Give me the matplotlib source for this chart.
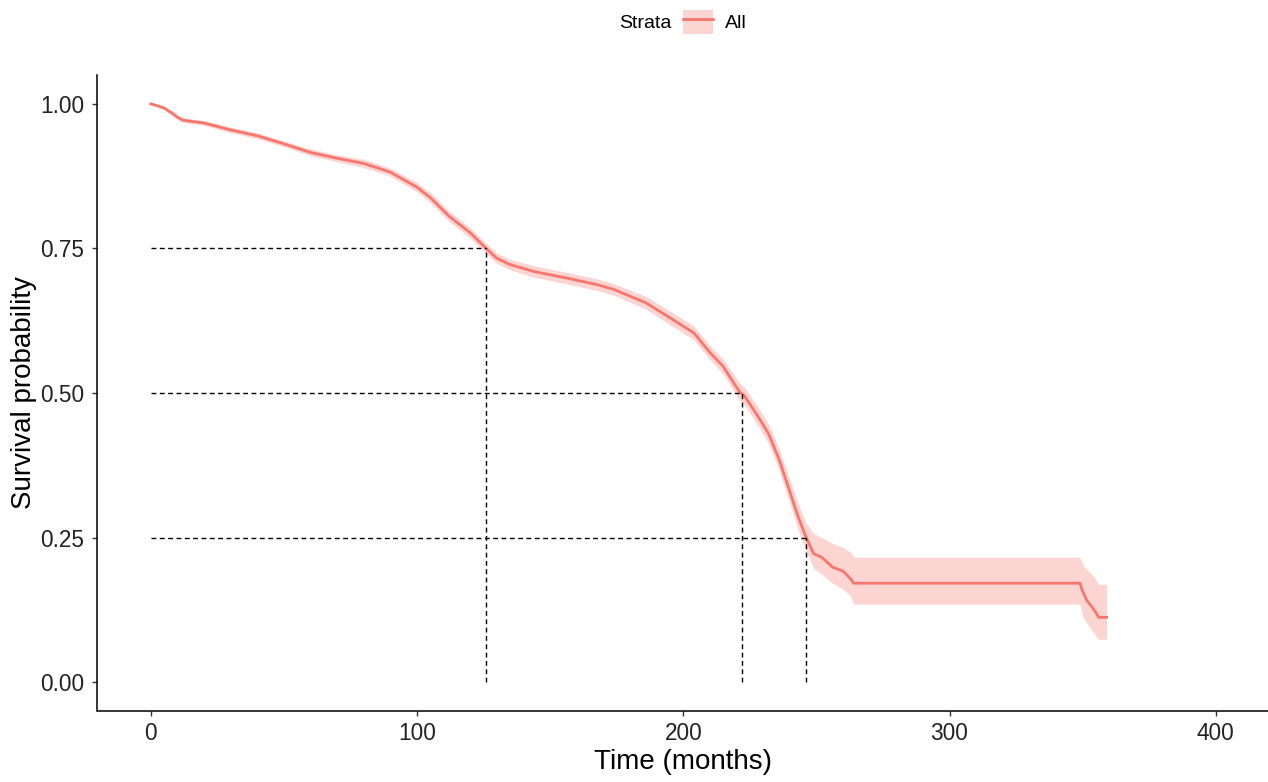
import numpy as np
import matplotlib
matplotlib.use("Agg")
import matplotlib.pyplot as plt
from matplotlib.patches import Patch
from matplotlib.lines import Line2D

plt.rcParams['font.family'] = ['Liberation Sans', 'DejaVu Sans']

# Kaplan-Meier estimate (time in months)
time = [0, 1.5, 3, 5, 6, 8, 10, 12, 15, 20, 30, 40, 50, 60, 70, 80, 90, 100,
        105, 112, 120, 126, 130, 135, 144, 156, 168, 174, 186, 195, 204, 210,
        215, 221, 223, 228, 232, 236, 240, 243, 246, 249, 252, 256, 260, 263,
        264, 349, 350, 351.5, 353.5, 355, 356, 359]
surv = [1.000, 0.998, 0.996, 0.993, 0.990, 0.984, 0.977, 0.972, 0.970, 0.967,
        0.955, 0.945, 0.931, 0.916, 0.906, 0.897, 0.882, 0.856, 0.838, 0.806,
        0.777, 0.750, 0.733, 0.722, 0.710, 0.699, 0.687, 0.679, 0.656, 0.630,
        0.604, 0.570, 0.546, 0.503, 0.495, 0.460, 0.430, 0.385, 0.330, 0.288,
        0.252, 0.222, 0.216, 0.199, 0.192, 0.178, 0.171, 0.171, 0.157, 0.142,
        0.130, 0.120, 0.112, 0.112]
ci_low = [1.000, 0.997, 0.994, 0.990, 0.987, 0.980, 0.973, 0.968, 0.966, 0.963,
          0.950, 0.940, 0.926, 0.910, 0.900, 0.890, 0.875, 0.848, 0.829, 0.797,
          0.768, 0.741, 0.724, 0.713, 0.700, 0.689, 0.677, 0.669, 0.645, 0.618,
          0.592, 0.558, 0.533, 0.488, 0.480, 0.444, 0.413, 0.366, 0.309, 0.265,
          0.228, 0.197, 0.187, 0.171, 0.161, 0.148, 0.135, 0.135, 0.114, 0.102,
          0.089, 0.080, 0.074, 0.074]
ci_high = [1.000, 0.999, 0.998, 0.996, 0.993, 0.988, 0.981, 0.976, 0.974, 0.971,
           0.960, 0.950, 0.936, 0.922, 0.912, 0.904, 0.889, 0.864, 0.847, 0.815,
           0.786, 0.759, 0.742, 0.731, 0.720, 0.709, 0.697, 0.689, 0.667, 0.642,
           0.616, 0.582, 0.559, 0.518, 0.510, 0.476, 0.447, 0.404, 0.351, 0.311,
           0.276, 0.257, 0.250, 0.240, 0.233, 0.224, 0.216, 0.216, 0.204, 0.195,
           0.186, 0.177, 0.169, 0.169]

# quantile reference lines
q_prob = [0.75, 0.50, 0.25]
q_time = [126, 222, 246]

xticks = [0, 100, 200, 300, 400]
yticks = [0.00, 0.25, 0.50, 0.75, 1.00]

red = '#F8766D'

fig = plt.figure(figsize=(12.68, 7.82), dpi=100)
ax = fig.add_axes([97.5 / 1268, 71 / 782, 1171.5 / 1268, 636 / 782])

ax.fill_between(time, ci_low, ci_high, color=red, alpha=0.3, linewidth=0)
ax.plot(time, surv, color=red, linewidth=2.0)

for p, t in zip(q_prob, q_time):
    ax.plot([0, t], [p, p], color='black', linestyle=(0, (3.5, 2.5)), linewidth=1.0)
    ax.plot([t, t], [0, p], color='black', linestyle=(0, (3.5, 2.5)), linewidth=1.0)

ax.set_xlim(-20, 420)
ax.set_ylim(-0.05, 1.05)
ax.set_xticks(xticks)
ax.set_yticks(yticks)
ax.set_yticklabels([f'{v:.2f}' for v in yticks])
ax.tick_params(labelsize=16.3, length=3.8, width=1, color='#333333',
               labelcolor='#222222')
ax.tick_params(axis='x', pad=4.3)
ax.tick_params(axis='y', pad=5.8)
for side in ['top', 'right']:
    ax.spines[side].set_visible(False)
for side in ['left', 'bottom']:
    ax.spines[side].set_linewidth(1.1)
ax.set_xlabel('Time (months)', fontsize=20, labelpad=2.5)
ax.set_ylabel('Survival probability', fontsize=20, labelpad=2)

# legend on top
fig.text(671 / 1268, 1 - 23 / 782, 'Strata', fontsize=14, va='center',
         ha='right')
handle = (Patch(facecolor=red, alpha=0.3, edgecolor='none'),
          Line2D([], [], color=red, linewidth=2.0))
fig.legend([handle], ['All'], loc='center left',
           bbox_to_anchor=(683 / 1268, 1 - 22 / 782), frameon=False,
           fontsize=14, handlelength=1.55, handleheight=1.55,
           handletextpad=0.6, borderpad=0, borderaxespad=0)

fig.savefig('out.png', dpi=100)
